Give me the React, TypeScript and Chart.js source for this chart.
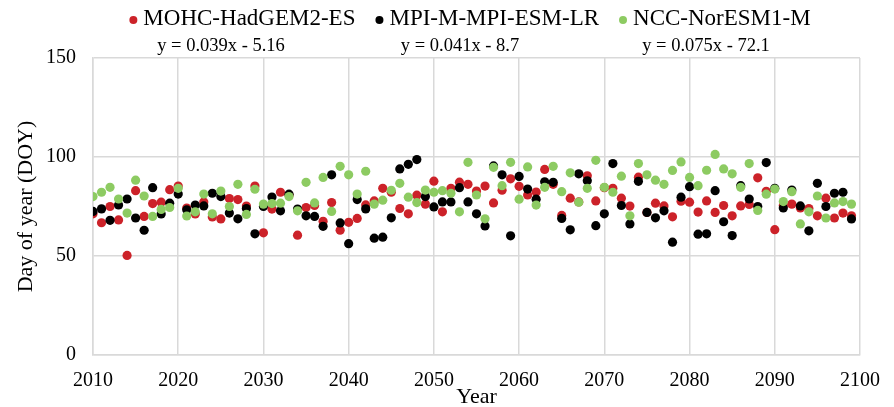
import React, { useEffect, useRef } from "react";
import { Chart, registerables } from "chart.js";

Chart.register(...registerables);

const SERIF = '"Liberation Serif", "Times New Roman", serif';

const YEARS = [
  2010, 2011, 2012, 2013, 2014, 2015, 2016, 2017, 2018, 2019,
  2020, 2021, 2022, 2023, 2024, 2025, 2026, 2027, 2028, 2029,
  2030, 2031, 2032, 2033, 2034, 2035, 2036, 2037, 2038, 2039,
  2040, 2041, 2042, 2043, 2044, 2045, 2046, 2047, 2048, 2049,
  2050, 2051, 2052, 2053, 2054, 2055, 2056, 2057, 2058, 2059,
  2060, 2061, 2062, 2063, 2064, 2065, 2066, 2067, 2068, 2069,
  2070, 2071, 2072, 2073, 2074, 2075, 2076, 2077, 2078, 2079,
  2080, 2081, 2082, 2083, 2084, 2085, 2086, 2087, 2088, 2089,
  2090, 2091, 2092, 2093, 2094, 2095, 2096, 2097, 2098, 2099,
];

const MOHC = [
  71.3, 66.8, 75, 68.2, 50.3, 83, 70, 76.5, 77.2, 83.5,
  85.3, 74.2, 71.2, 77.3, 69.7, 68.7, 79, 78.5, 75.2, 85.3,
  61.7, 73.7, 82.2, 80.8, 60.5, 74.5, 75.5, 67.5, 77, 63,
  67, 69, 75.8, 77.8, 84.2, 82.2, 74, 71.3, 80.7, 76.2,
  87.8, 72.3, 84.2, 87.3, 86.2, 82.8, 85.3, 76.8, 83.2, 89,
  85.2, 80.8, 82.3, 93.7, 86.2, 70.5, 79.2, 77.3, 90.5, 77.8,
  84.5, 84.2, 79.2, 75.2, 89.8, 72, 76.7, 75.3, 69.8, 77.7,
  77.2, 72.2, 77.8, 72, 75.5, 70.3, 75.3, 76, 89.5, 82.7,
  63.3, 75.5, 76.2, 74.3, 74, 70.3, 79.2, 69.2, 71.7, 70.3,
];

const MPI = [
  72.5, 73.8, 68, 75.8, 78.8, 69.2, 63, 84.5, 71.2, 76.7,
  81.3, 73.3, 75.7, 75.3, 81.7, 80, 71.7, 68.8, 74, 61.2,
  75, 79.8, 72.8, 81.2, 73.7, 70.3, 70, 65, 91, 66.7,
  56.2, 78.5, 73.8, 59, 59.5, 69.3, 94, 96.3, 98.7, 80,
  74.8, 77.3, 77.3, 84.5, 77.3, 71.3, 65.2, 95.5, 91, 60.2,
  90.2, 83.8, 78.7, 87.5, 87.2, 69, 63.2, 91.5, 88, 65.3,
  71.3, 96.7, 75.5, 66.2, 87.7, 72, 69.3, 72.8, 57, 79.7,
  85, 61, 61.2, 83, 67.3, 60.3, 85.5, 78.8, 75, 97.2,
  84.2, 74.3, 83.3, 75.3, 62.7, 86.7, 75, 81.7, 82.2, 68.7,
];

const NCC = [
  80, 82.2, 84.7, 78.8, 71.7, 88.3, 80.3, 70, 73.5, 74.5,
  84.2, 70.2, 72.3, 81.3, 71.3, 82.8, 75, 86.2, 71, 83.7,
  76.2, 76.5, 76.7, 80, 72.8, 87.2, 76.8, 89.7, 72.5, 95.3,
  91, 81.3, 92.8, 76.2, 78.2, 83.2, 86.7, 79.7, 77, 83.3,
  82.2, 83, 81.7, 72.3, 97.3, 80.8, 68.8, 94.8, 85.5, 97.3,
  78.7, 95, 75.7, 84.7, 95.3, 82.5, 92, 77.2, 84.2, 98.3,
  84.7, 82.2, 90.3, 70.3, 96.7, 91, 88.3, 86.2, 93.2, 97.5,
  89.7, 85.5, 93.3, 101.3, 94, 91.5, 84.7, 96.7, 73, 81.2,
  83.8, 77.5, 82.5, 66.2, 72.3, 80.3, 69.2, 76.8, 77.5, 76.2,
];

const SERIES_NAMES = ["MOHC-HadGEM2-ES", "MPI-M-MPI-ESM-LR", "NCC-NorESM1-M"];
const SERIES_COLORS = ["#CC2229", "#000000", "#8DCB62"];
const TREND_LABELS = ["y = 0.039x - 5.16", "y = 0.041x - 8.7", "y = 0.075x - 72.1"];
const TREND_LABEL_X = [221, 460, 706];

const GRID = "#D9D9D9";

const toPoints = (values: number[]) =>
  YEARS.map((year, i) => ({ x: year, y: values[i] }));

const overlayText = {
  id: "overlayText",
  afterDraw(chart: any) {
    const { ctx, chartArea } = chart;
    ctx.save();
    ctx.fillStyle = "#000";

    // legend row
    ctx.font = `23px ${SERIF}`;
    ctx.textBaseline = "middle";
    ctx.textAlign = "left";
    const dotR = 4;
    const dotToText = 10;
    const itemGap = 20;
    const widths = SERIES_NAMES.map((n) => ctx.measureText(n).width);
    const total =
      widths.reduce((a, b) => a + b, 0) +
      SERIES_NAMES.length * (dotR + dotToText) +
      (SERIES_NAMES.length - 1) * itemGap;
    let x = 470 - total / 2 + dotR;
    const ly = 19;
    SERIES_NAMES.forEach((name, i) => {
      ctx.beginPath();
      ctx.arc(x, ly + 1, dotR, 0, Math.PI * 2);
      ctx.fillStyle = SERIES_COLORS[i];
      ctx.fill();
      ctx.fillStyle = "#000";
      ctx.fillText(name, x + dotToText, ly);
      x += dotToText + widths[i] + itemGap + dotR;
    });

    // trend equations
    ctx.font = `18.5px ${SERIF}`;
    ctx.textAlign = "center";
    TREND_LABELS.forEach((t, i) => ctx.fillText(t, TREND_LABEL_X[i], 46));

    // axis titles
    ctx.font = `22px ${SERIF}`;
    ctx.fillText("Year", (chartArea.left + chartArea.right) / 2, 397);
    ctx.translate(26, (chartArea.top + chartArea.bottom) / 2);
    ctx.rotate(-Math.PI / 2);
    ctx.fillText("Day of year (DOY)", 0, 0);
    ctx.restore();
  },
};

export default function App() {
  const canvasRef = useRef<HTMLCanvasElement | null>(null);

  useEffect(() => {
    const canvas = canvasRef.current;
    if (!canvas) return;
    const makeSet = (i: number, values: number[], order: number) => ({
      label: SERIES_NAMES[i],
      data: toPoints(values),
      backgroundColor: SERIES_COLORS[i],
      borderColor: SERIES_COLORS[i],
      borderWidth: 0,
      pointRadius: 4.6,
      order,
    });
    const chart = new Chart(canvas, {
      type: "scatter",
      data: {
        datasets: [makeSet(0, MOHC, 3), makeSet(1, MPI, 2), makeSet(2, NCC, 1)],
      },
      options: {
        animation: false,
        responsive: false,
        devicePixelRatio: 1,
        layout: { padding: { left: 0, top: 58, right: 26, bottom: 0 } },
        plugins: {
          legend: { display: false },
          tooltip: { enabled: false },
        },
        scales: {
          x: {
            type: "linear",
            min: 2010,
            max: 2100,
            afterFit: (s: any) => {
              s.height = 52;
            },
            ticks: {
              stepSize: 10,
              padding: 14,
              color: "#000",
              font: { family: SERIF, size: 20 },
              callback: (v: any) => String(v),
            },
            grid: { color: GRID, lineWidth: 1.5, drawTicks: false },
            border: { color: GRID, width: 1.5 },
          },
          y: {
            min: 0,
            max: 150,
            afterFit: (s: any) => {
              s.width = 93;
            },
            ticks: {
              stepSize: 50,
              padding: 17,
              color: "#000",
              font: { family: SERIF, size: 20 },
            },
            grid: { color: GRID, lineWidth: 1.5, drawTicks: false },
            border: { color: GRID, width: 1.5 },
          },
        },
      },
      plugins: [overlayText],
    });
    return () => chart.destroy();
  }, []);

  return (
    <div style={{ position: "absolute", left: 0, top: 0, width: 894, height: 407, background: "#fff" }}>
      <canvas ref={canvasRef} width={894} height={407} />
    </div>
  );
}
